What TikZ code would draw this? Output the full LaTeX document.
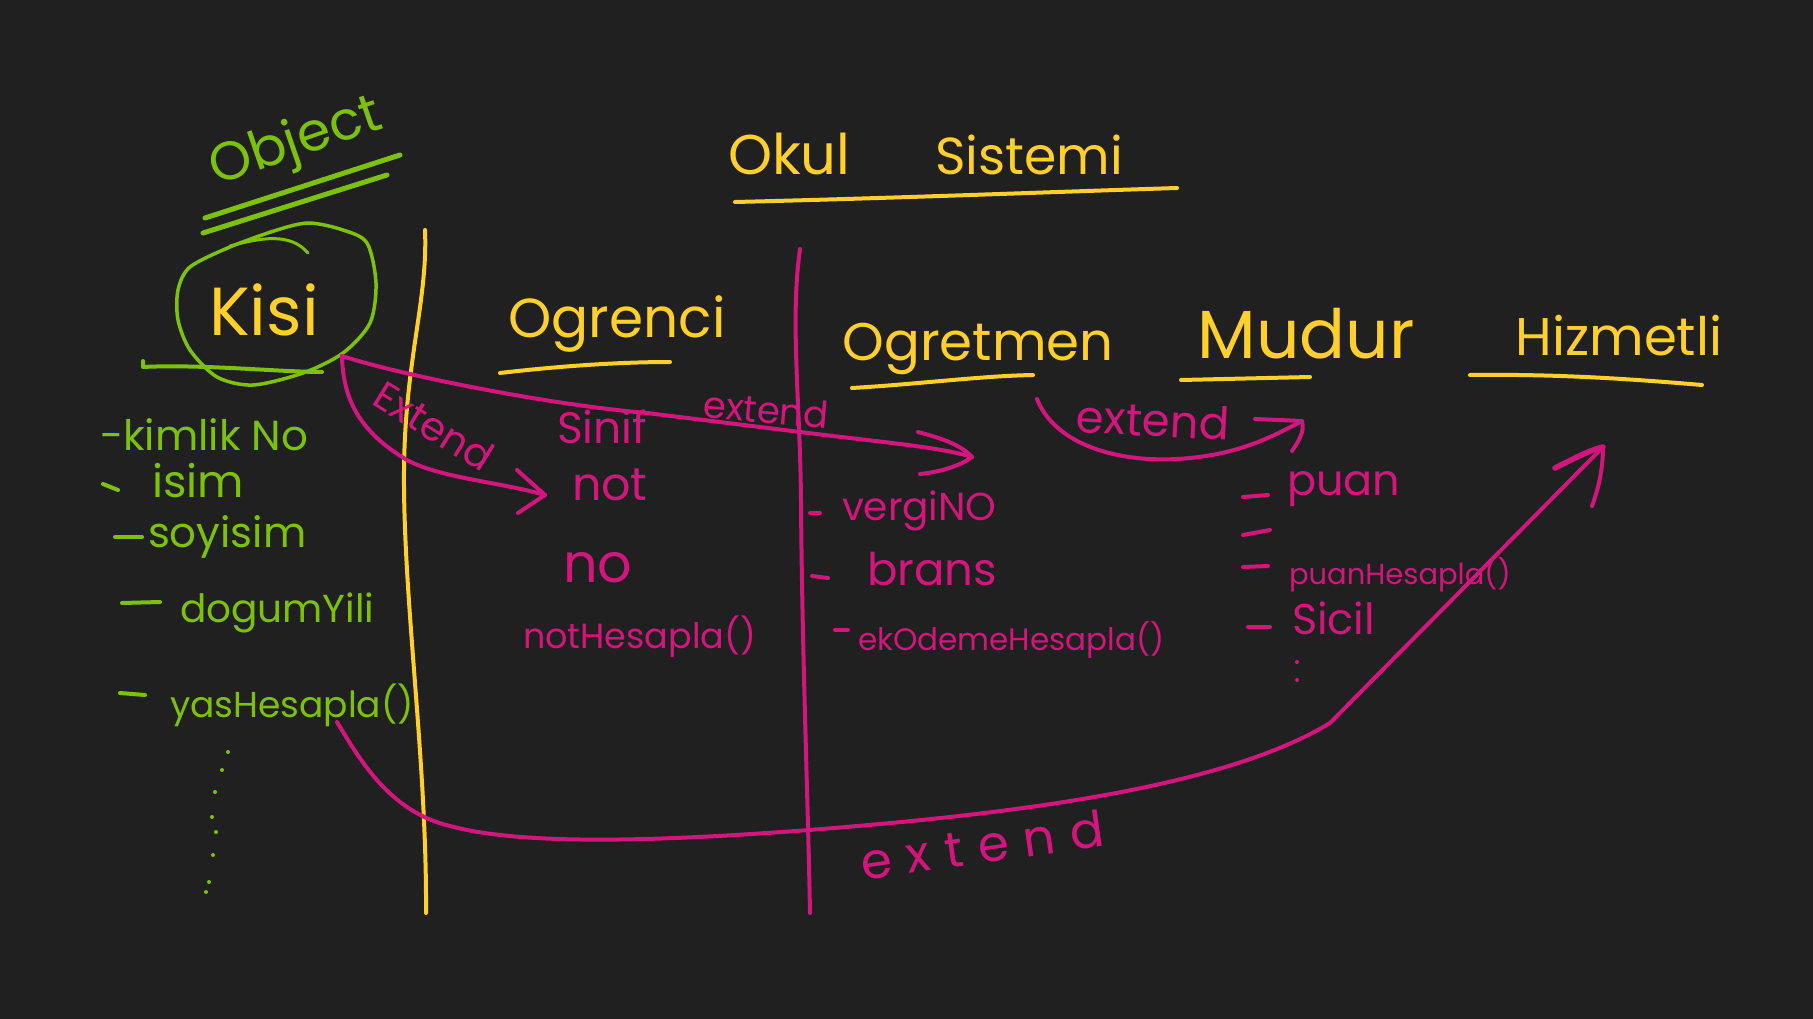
\documentclass[tikz,border=0pt]{standalone}
\usepackage{fontspec}
\setmainfont{Poppins}
\newfontfamily\spacedfont[LetterSpace=30]{Poppins}
\newcommand\myfs[1]{\fontsize{#1}{#1}\selectfont}
\definecolor{bgc}{HTML}{202020}
\definecolor{ylw}{HTML}{FFD02C}
\definecolor{grn}{HTML}{7CC20C}
\definecolor{mag}{HTML}{D3157E}
\tikzset{
  pen/.style={line width=4pt, line cap=round, line join=round},
  ypen/.style={pen, draw=ylw},
  gpen/.style={pen, draw=grn},
  mpen/.style={pen, draw=mag},
  txt/.style={inner sep=0pt, outer sep=0pt},
  ytxt/.style={txt, text=ylw},
  gtxt/.style={txt, text=grn},
  mtxt/.style={txt, text=mag},
}
\begin{document}
\begin{tikzpicture}[x=1pt,y=-1pt]
\fill[bgc] (0,0) rectangle (1813,1019);
\useasboundingbox (0,0) rectangle (1813,1019);

% title
\node[ytxt, anchor=base west] (okul) at (728,175) {\myfs{56}Okul};
\node[ytxt, anchor=base west] (sistemi) at (935,175) {\myfs{52}Sistemi};
\draw[ypen] (735,202) .. controls (900,198) and (1050,192) .. (1177,188);

% Object
\node[gtxt, rotate=19] (object) at (296,144) {\myfs{54}Object};
\draw[gpen, line width=5pt] (205,218) -- (400,155);
\draw[gpen, line width=5pt] (203,233) -- (387,175);

% Kisi circle
\draw[gpen, line width=3.5pt] plot[smooth cycle] coordinates {(178,290) (190,267) (230,247) (277,230) (309,223) (343,230) (367,243) (376,283) (370,323) (343,353) (303,373) (253,385) (217,377) (190,350) (178,320)};
\draw[gpen, line width=3pt] (230,246) .. controls (260,238) and (290,232) .. (308,253);
\node[ytxt, anchor=base] (kisi) at (264,335) {\myfs{68}Kisi};
\draw[gpen] (143,361) -- (143,367) .. controls (200,364) and (280,372) .. (322,372);

% vertical separators
\draw[ypen] (425,230) .. controls (428,300) and (405,360) .. (404,470) .. controls (403,600) and (427,760) .. (426,913);
\draw[mpen] (800,249) .. controls (790,320) and (800,400) .. (801,500) .. controls (802,650) and (808,800) .. (810,913);

% class headers
\node[ytxt, anchor=base] (ogrenci) at (617,337) {\myfs{55}Ogrenci};
\draw[ypen] (500,373) .. controls (560,366) and (620,362) .. (670,362);
\node[ytxt, anchor=base] (ogretmen) at (978,360) {\myfs{53}Ogretmen};
\draw[ypen] (852,388) .. controls (920,384) and (980,376) .. (1033,375);
\node[ytxt, anchor=base] (mudur) at (1306,358) {\myfs{68}Mudur};
\draw[ypen] (1181,380) -- (1310,377);
\node[ytxt, anchor=base] (hizmetli) at (1619,355) {\myfs{53}Hizmetli};
\draw[ypen] (1470,375) .. controls (1550,374) and (1620,378) .. (1702,385);

% Kisi members
\node[gtxt, anchor=base west] (kimlik) at (100,450) {\myfs{42}-kimlik No};
\draw[gpen] (103,484) -- (118,490);
\node[gtxt, anchor=base west] (isim) at (152,497) {\myfs{45}isim};
\draw[gpen] (115,537) -- (142,537);
\node[gtxt, anchor=base west] (soyisim) at (148,547) {\myfs{42}soyisim};
\draw[gpen] (122,603) -- (160,602);
\node[gtxt, anchor=base west] (dogum) at (180,622) {\myfs{39}dogumYili};
\draw[gpen] (120,693) -- (145,695);
\node[gtxt, anchor=base west] (yas) at (170,717) {\myfs{36}yasHesapla()};
\foreach \p in {(228,752),(222,770),(215,792),(212,817),(216,832),(213,855),(209,882),(206,892)}
  \fill[grn] \p circle (2pt);

% Ogrenci members
\node[mtxt, anchor=base west] (sinif) at (557,443) {\myfs{44}Sinif};
\node[mtxt, anchor=base west] (not) at (572,500) {\myfs{46}not};
\node[mtxt, anchor=base west] (no) at (563,582) {\myfs{54}no};
\node[mtxt, anchor=base west] (notH) at (523,648) {\myfs{35}notHesapla()};

% Ogretmen members
\draw[mpen] (810,513) -- (820,513);
\node[mtxt, anchor=base west] (vergi) at (842,520) {\myfs{39}vergiNO};
\draw[mpen] (812,576) -- (828,578);
\node[mtxt, anchor=base west] (brans) at (867,585) {\myfs{45}brans};
\draw[mpen] (835,630) -- (848,630);
\node[mtxt, anchor=base west] (ekodeme) at (858,650) {\myfs{31}ekOdemeHesapla()};

% Mudur members
\draw[mpen] (1243,497) -- (1268,495);
\node[mtxt, anchor=base west] (puan) at (1287,495) {\myfs{43}puan};
\draw[mpen] (1243,535) -- (1270,530);
\draw[mpen] (1243,567) -- (1268,566);
\node[mtxt, anchor=base west] (puanH) at (1289,584) {\myfs{29}puanHesapla()};
\draw[mpen] (1248,627) -- (1270,627);
\node[mtxt, anchor=base west] (sicil) at (1292,634) {\myfs{43}Sicil};
\fill[mag] (1297,662) circle (2pt);
\fill[mag] (1297,680) circle (2pt);

% connectors
\coordinate (kS) at (342,356);
\coordinate (notTip) at (545,495);
\coordinate (ogtTip) at (972,457);
\coordinate (mudS) at (1037,399);
\coordinate (mudTip) at (1302,421);
\coordinate (yasS) at (337,722);
\coordinate (hizTip) at (1603,447);

\draw[mpen] (kS) .. controls (343,400) and (360,432) .. (407,460) .. controls (440,478) and (500,482) .. (notTip);
\draw[mpen] (517,470) -- (notTip) -- (518,513);
\node[mtxt, rotate=-32] (ext1) at (434,426) {\myfs{40}Extend};

\draw[mpen] (kS) .. controls (400,375) and (550,405) .. (647,413) -- (800,432) .. controls (880,442) and (940,447) .. (ogtTip);
\draw[mpen] (918,432) .. controls (940,438) and (960,444) .. (ogtTip) .. controls (960,466) and (940,472) .. (920,474);
\node[mtxt, rotate=-5] (ext2) at (766,410) {\myfs{37}extend};

\draw[mpen] (mudS) .. controls (1055,445) and (1120,465) .. (1190,458) .. controls (1240,453) and (1270,438) .. (mudTip);
\draw[mpen] (1255,419) -- (mudTip) .. controls (1305,432) and (1298,442) .. (1292,451);
\node[mtxt, rotate=-3] (ext3) at (1153,420) {\myfs{45}extend};

\draw[mpen] (yasS) .. controls (360,760) and (390,812) .. (450,826) .. controls (520,845) and (650,842) .. (809,830) .. controls (1000,815) and (1220,790) .. (1330,723) -- (hizTip);
\draw[mpen, line width=5.5pt] (1555,468) .. controls (1575,458) and (1590,450) .. (hizTip);
\draw[mpen] (hizTip) .. controls (1603,470) and (1598,490) .. (1592,506);
\node[mtxt, rotate=8, anchor=base west] (ext4) at (863,880) {\myfs{50}\spacedfont extend};
\end{tikzpicture}
\end{document}
